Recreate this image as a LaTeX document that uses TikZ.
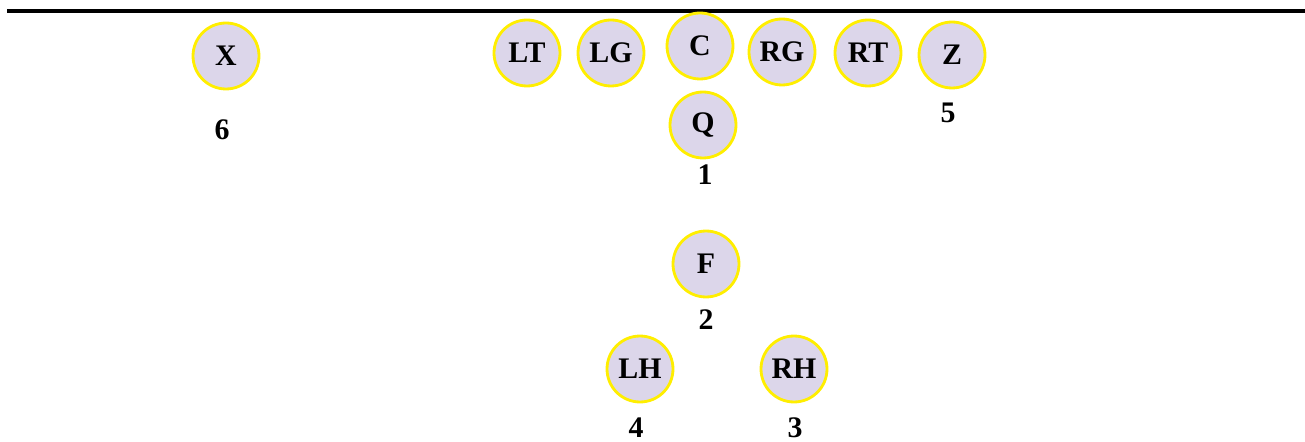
\documentclass[tikz,border=0pt]{standalone}
\usepackage{fontspec}
\setmainfont{Liberation Serif}
\definecolor{playerfill}{RGB}{220,214,234}
\definecolor{playerline}{RGB}{255,238,0}
\tikzset{
  player/.style={circle,draw=playerline,fill=playerfill,line width=1.6pt,
    minimum width=1.32cm,inner sep=0pt,font=\fontsize{17}{20}\selectfont\bfseries},
  number/.style={font=\fontsize{17}{20}\selectfont\bfseries}
}
\begin{document}
\begin{tikzpicture}[x=0.02cm,y=-0.02cm]
\useasboundingbox (0,0) rectangle (1305,442);
\draw[line width=2.2pt] (7,11)--(1305,11);

% line
\node[player] (x) at (226,56) {X};
\node[player] (lt) at (527,53) {LT};
\node[player] (lg) at (611,53) {LG};
\node[player] (c) at (700,46) {C};
\node[player] (rg) at (782,52) {RG};
\node[player] (rt) at (868,53) {RT};
\node[player] (z) at (952,55) {Z};

% backfield
\node[player] (q) at (703,125) {Q};
\node[player] (f) at (706,264) {F};
\node[player] (lh) at (640,369) {LH};
\node[player] (rh) at (794,369) {RH};

\node[number] (n6) at (222,130) {6};
\node[number] (n5) at (948,113) {5};
\node[number] (n1) at (705,175) {1};
\node[number] (n2) at (706,320) {2};
\node[number] (n4) at (636,428) {4};
\node[number] (n3) at (795,428) {3};
\end{tikzpicture}
\end{document}
